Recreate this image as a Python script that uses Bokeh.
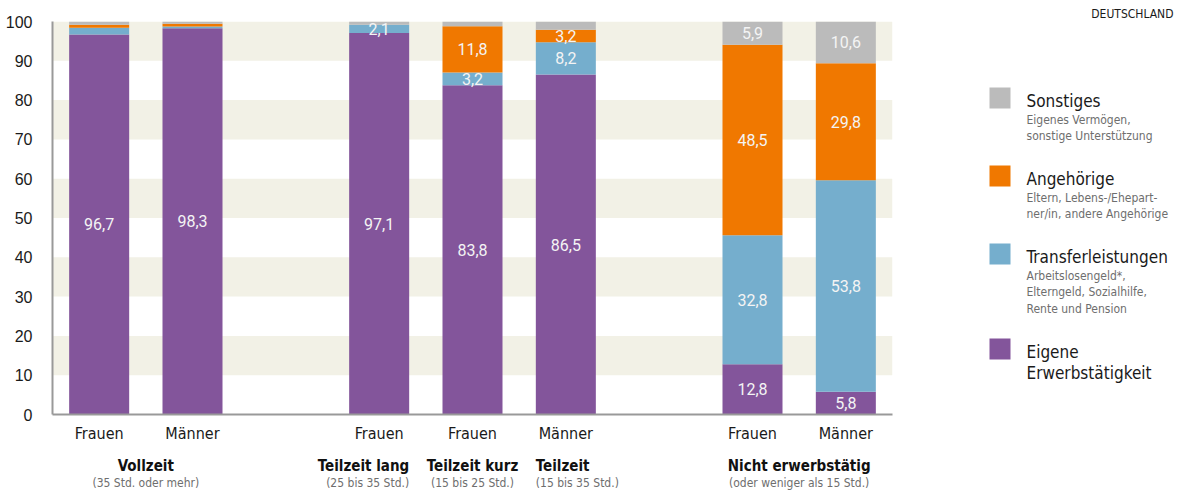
from bokeh.plotting import figure
from bokeh.models import ColumnDataSource, FixedTicker, Range1d, BoxAnnotation
from bokeh.layouts import row, column
from bokeh.core.properties import value
from bokeh.embed import file_html
from bokeh.resources import INLINE

# ---------------- data ----------------
bar_categories = ["Frauen", "Männer", "Frauen", "Frauen", "Männer", "Frauen", "Männer"]
bar_block = [0, 0, 1, 1, 1, 2, 2]   # blocks are separated by one empty slot

group_names = ["Vollzeit", "Teilzeit lang", "Teilzeit kurz", "Teilzeit", "Nicht erwerbstätig"]
group_notes = ["(35 Std. oder mehr)", "(25 bis 35 Std.)", "(15 bis 25 Std.)",
               "(15 bis 35 Std.)", "(oder weniger als 15 Std.)"]
group_bars = [[0, 1], [2], [3], [4], [5, 6]]
group_align = ["center", "right", "center", "left", "center"]

series_keys = ["eigene", "transfer", "angehoerige", "sonstiges"]
eigene = [96.7, 98.3, 97.1, 83.8, 86.5, 12.8, 5.8]
transfer = [1.7, 0.4, 2.1, 3.2, 8.2, 32.8, 53.8]
angehoerige = [0.8, 0.7, 0.0, 11.8, 3.2, 48.5, 29.8]
sonstiges = [0.8, 0.6, 0.8, 1.2, 2.1, 5.9, 10.6]
shown_eigene = [1, 1, 1, 1, 1, 1, 1]
shown_transfer = [0, 0, 1, 1, 1, 1, 1]
shown_angehoerige = [0, 0, 0, 1, 1, 1, 1]
shown_sonstiges = [0, 0, 0, 0, 0, 1, 1]

y_ticks = [0, 10, 20, 30, 40, 50, 60, 70, 80, 90, 100]

legend_titles = [["Sonstiges"], ["Angehörige"], ["Transferleistungen"], ["Eigene", "Erwerbstätigkeit"]]
legend_notes = [["Eigenes Vermögen,", "sonstige Unterstützung"],
                ["Eltern, Lebens-/Ehepart-", "ner/in, andere Angehörige"],
                ["Arbeitslosengeld*,", "Elterngeld, Sozialhilfe,", "Rente und Pension"],
                []]
region_label = "DEUTSCHLAND"

# ---------------- styles ----------------
COL_EIGENE = "#83559b"
COL_TRANSFER = "#75aecd"
COL_ANGEH = "#f07800"
COL_SONST = "#bbbbbb"
series_colors = [COL_EIGENE, COL_TRANSFER, COL_ANGEH, COL_SONST]
legend_colors = [COL_SONST, COL_ANGEH, COL_TRANSFER, COL_EIGENE]
BAND = "#f2f1e6"
NARROW = "DejaVu Sans Condensed"
BAR_W = 0.643

x_pos = [i + b for i, b in enumerate(bar_block)]

# ---------------- main chart ----------------
p = figure(width=902, height=449, x_range=Range1d(-0.5, 8.5), y_range=Range1d(0, 100),
           toolbar_location=None, output_backend="svg",
           min_border_left=52, min_border_right=10, min_border_top=21, min_border_bottom=35)
p.outline_line_color = None
p.xgrid.grid_line_color = None
p.ygrid.grid_line_color = None
p.background_fill_color = "white"
p.border_fill_color = "white"

for lo in y_ticks[1:-1:2]:
    p.add_layout(BoxAnnotation(bottom=lo, top=lo + 10, fill_color=BAND, fill_alpha=1.0,
                               line_alpha=0, level="underlay"))

src = ColumnDataSource(dict(x=x_pos, eigene=eigene, transfer=transfer,
                            angehoerige=angehoerige, sonstiges=sonstiges))
p.vbar_stack(series_keys, x="x", width=BAR_W, source=src,
             fill_color=series_colors, line_color=None)

# value labels
series_vals = [eigene, transfer, angehoerige, sonstiges]
series_shown = [shown_eigene, shown_transfer, shown_angehoerige, shown_sonstiges]
lx, ly, lt = [], [], []
for i, x in enumerate(x_pos):
    base = 0.0
    for vals, sh in zip(series_vals, series_shown):
        v = vals[i]
        if sh[i]:
            lx.append(x)
            ly.append(base + v / 2)
            lt.append(f"{v:.1f}".replace(".", ","))
        base += v
p.text(x=lx, y=ly, text=lt, text_align="center", text_baseline="middle",
       text_font=value("Roboto"), text_font_size="16px", text_color="#f4f4f4")

# axes
p.yaxis.ticker = FixedTicker(ticks=y_ticks)
p.yaxis.major_label_text_font = "Liberation Sans"
p.yaxis.major_label_text_font_size = "16px"
p.yaxis.major_label_text_color = "#1a1a1a"
p.yaxis.major_label_standoff = 14
p.yaxis.axis_line_color = "#999999"
p.yaxis.axis_line_width = 2
p.yaxis.major_tick_line_color = None
p.yaxis.minor_tick_line_color = None

p.xaxis.ticker = FixedTicker(ticks=x_pos)
p.xaxis.major_label_overrides = {x: c for x, c in zip(x_pos, bar_categories)}
p.xaxis.major_label_text_font = NARROW
p.xaxis.major_label_text_font_size = "16px"
p.xaxis.major_label_text_color = "#1a1a1a"
p.xaxis.major_label_standoff = 3
p.xaxis.axis_line_color = "#999999"
p.xaxis.axis_line_width = 2
p.xaxis.major_tick_line_color = None
p.xaxis.minor_tick_line_color = None

# ---------------- group labels below ----------------
b = figure(width=902, height=42, x_range=p.x_range, y_range=Range1d(42, 0),
           toolbar_location=None, output_backend="svg",
           x_axis_location=None, y_axis_location=None,
           min_border_left=52, min_border_right=10, min_border_top=0, min_border_bottom=0)
b.outline_line_color = None
b.xgrid.grid_line_color = None
b.ygrid.grid_line_color = None
for name, note, bars, al in zip(group_names, group_notes, group_bars, group_align):
    xs = [x_pos[k] for k in bars]
    if al == "center":
        ax = sum(xs) / len(xs)
    elif al == "right":
        ax = max(xs) + BAR_W / 2
    else:
        ax = min(xs) - BAR_W / 2
    b.text(x=[ax], y=[16], text=[name], text_align=al, text_baseline="alphabetic",
           text_font=value(NARROW), text_font_style="bold", text_font_size="15px",
           text_color="#111111")
    b.text(x=[ax], y=[33], text=[note], text_align=al, text_baseline="alphabetic",
           text_font=value(NARROW), text_font_size="12px", text_color="#6e6e6e")

# ---------------- legend ----------------
lg = figure(width=280, height=491, x_range=Range1d(0, 280), y_range=Range1d(491, 0),
            toolbar_location=None, output_backend="svg",
            x_axis_location=None, y_axis_location=None,
            min_border_left=0, min_border_right=0, min_border_top=0, min_border_bottom=0)
lg.outline_line_color = None
lg.xgrid.grid_line_color = None
lg.ygrid.grid_line_color = None

lg.text(x=[271], y=[13], text=[region_label], text_align="right", text_baseline="alphabetic",
        text_font=value(NARROW), text_font_size="12px", text_color="#1a1a1a")

top = 87
for titles, notes, col in zip(legend_titles, legend_notes, legend_colors):
    lg.rect(x=[97.5], y=[top + 10.5], width=21, height=21, fill_color=col, line_color=None)
    ty = [top + 13 + 21 * k for k in range(len(titles))]
    lg.text(x=[124] * len(titles), y=ty, text=titles, text_baseline="alphabetic",
            text_font=value(NARROW), text_font_size="17px", text_color="#1a1a1a")
    if notes:
        ny = [ty[-1] + 19 + 16.5 * k for k in range(len(notes))]
        lg.text(x=[124] * len(notes), y=ny, text=notes, text_baseline="alphabetic",
                text_font=value(NARROW), text_font_size="12px", text_color="#6e6e6e")
    top += 44 + 17 * len(notes)

layout = row(column(p, b), lg)
open("out.html", "w").write(file_html(layout, INLINE))
